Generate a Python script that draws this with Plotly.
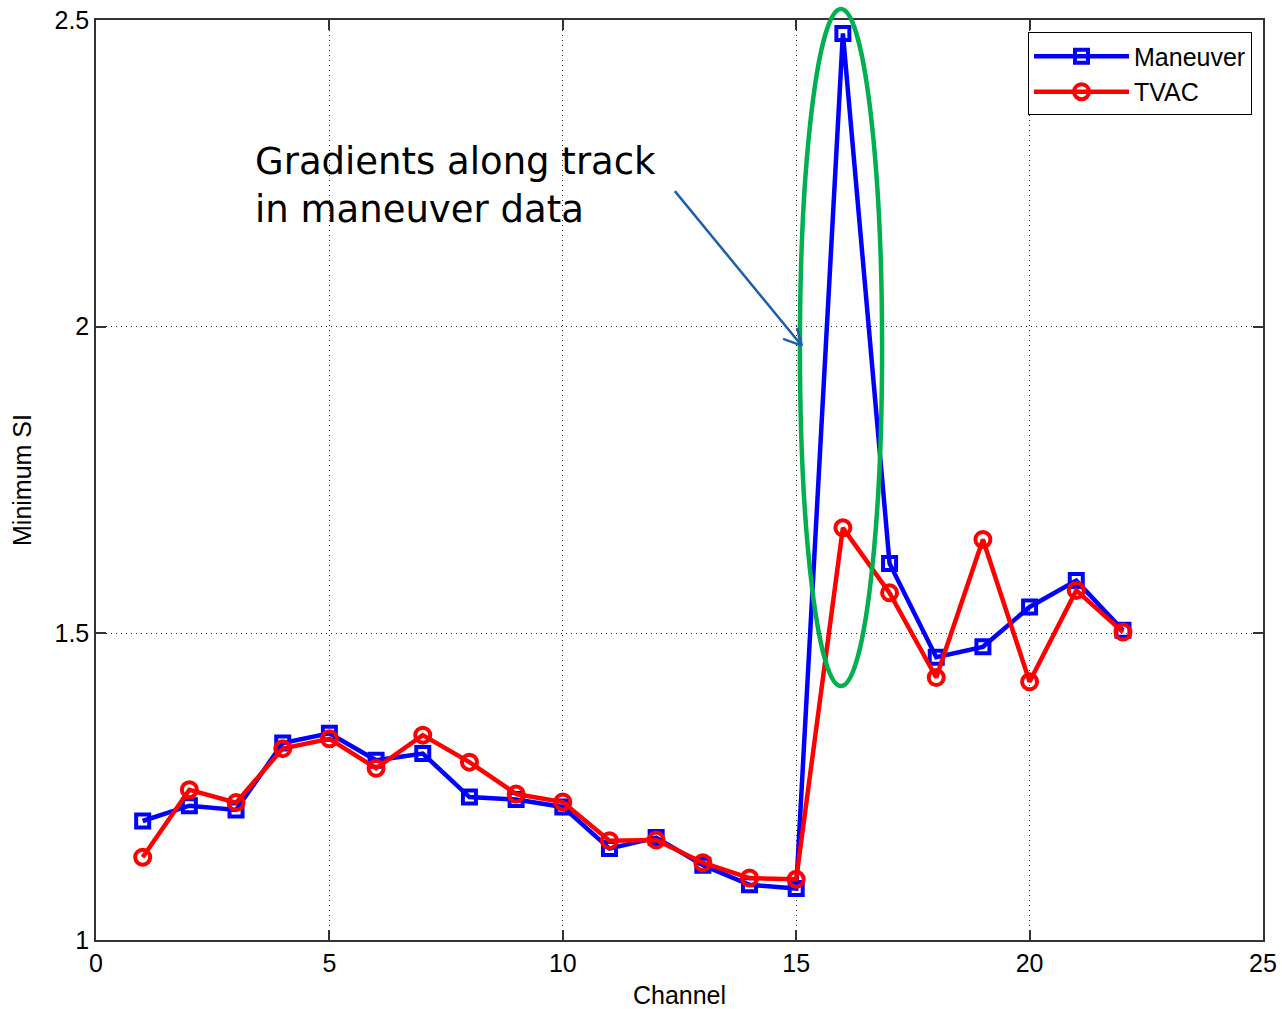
import plotly.graph_objects as go

# Channel numbers and minimum SI for the two data sets
channels = list(range(1, 23))
maneuver = [1.194, 1.219, 1.212, 1.321, 1.337, 1.293, 1.304, 1.233, 1.229, 1.217,
            1.149, 1.167, 1.122, 1.090, 1.084, 2.478, 1.614, 1.461, 1.478, 1.543,
            1.586, 1.505]
tvac = [1.135, 1.245, 1.224, 1.312, 1.328, 1.280, 1.334, 1.290, 1.238, 1.225,
        1.162, 1.163, 1.126, 1.101, 1.099, 1.672, 1.566, 1.428, 1.653, 1.421,
        1.570, 1.502]

x_ticks = [0, 5, 10, 15, 20, 25]
y_ticks = [1, 1.5, 2, 2.5]

AXIS_FONT = dict(family="Liberation Sans, Arial, sans-serif", size=25, color="black")

fig = go.Figure()
fig.add_trace(go.Scatter(
    x=channels, y=maneuver, name="Maneuver", mode="lines+markers",
    line=dict(color="#0000FF", width=4.5),
    marker=dict(symbol="square-open", size=13, color="#0000FF",
                line=dict(width=4, color="#0000FF")),
))
fig.add_trace(go.Scatter(
    x=channels, y=tvac, name="TVAC", mode="lines+markers",
    line=dict(color="#FF0000", width=4.5),
    marker=dict(symbol="circle-open", size=15, color="#FF0000",
                line=dict(width=4, color="#FF0000")),
))

# Highlight ellipse around the channel-16 spike
fig.add_shape(type="circle", xref="x", yref="paper",
              x0=15.08, x1=16.84, y0=0.276, y1=1.012,
              line=dict(color="#00B050", width=4.5))

# Callout arrow (shaft + open head)
ARROW = dict(color="#1F5FAA", width=2.5)
fig.add_shape(type="line", xref="x", yref="y", x0=12.40, y0=2.221, x1=15.12, y1=1.969, line=ARROW)
fig.add_shape(type="line", xref="x", yref="y", x0=14.72, y0=1.980, x1=15.12, y1=1.969, line=ARROW)
fig.add_shape(type="line", xref="x", yref="y", x0=15.02, y0=1.998, x1=15.12, y1=1.969, line=ARROW)

fig.add_annotation(
    x=3.36, y=2.23, xref="x", yref="y", xanchor="left", yanchor="middle",
    align="left", showarrow=False,
    text="Gradients along track<br>in maneuver data",
    font=dict(family="DejaVu Sans, Verdana, sans-serif", size=37, color="black"),
)

axis_common = dict(
    showline=True, linecolor="#333333", linewidth=1.5, mirror="ticks",
    ticks="inside", ticklen=10, tickwidth=1.5, tickcolor="#333333",
    showgrid=True, gridcolor="#222222", gridwidth=1, griddash="1px,4px",
    zeroline=False, tickfont=AXIS_FONT, automargin=False,
)

fig.update_layout(
    width=1282, height=1009,
    margin=dict(l=96, r=19, t=20, b=69, autoexpand=False),
    plot_bgcolor="white", paper_bgcolor="white",
    xaxis=dict(range=[0, 25], tickvals=x_ticks, ticktext=[str(v) for v in x_ticks],
               title=dict(text="Channel", font=AXIS_FONT, standoff=14), **axis_common),
    yaxis=dict(range=[1, 2.5], tickvals=y_ticks, ticktext=["1", "1.5", "2", "2.5"],
               title=dict(text="Minimum SI", font=AXIS_FONT, standoff=16), **axis_common),
    legend=dict(x=0.9906, y=0.9865, xanchor="right", yanchor="top",
                bgcolor="white", bordercolor="black", borderwidth=1,
                font=AXIS_FONT, itemwidth=95, tracegroupgap=0),
    showlegend=True,
)

fig.write_html("out.html")
